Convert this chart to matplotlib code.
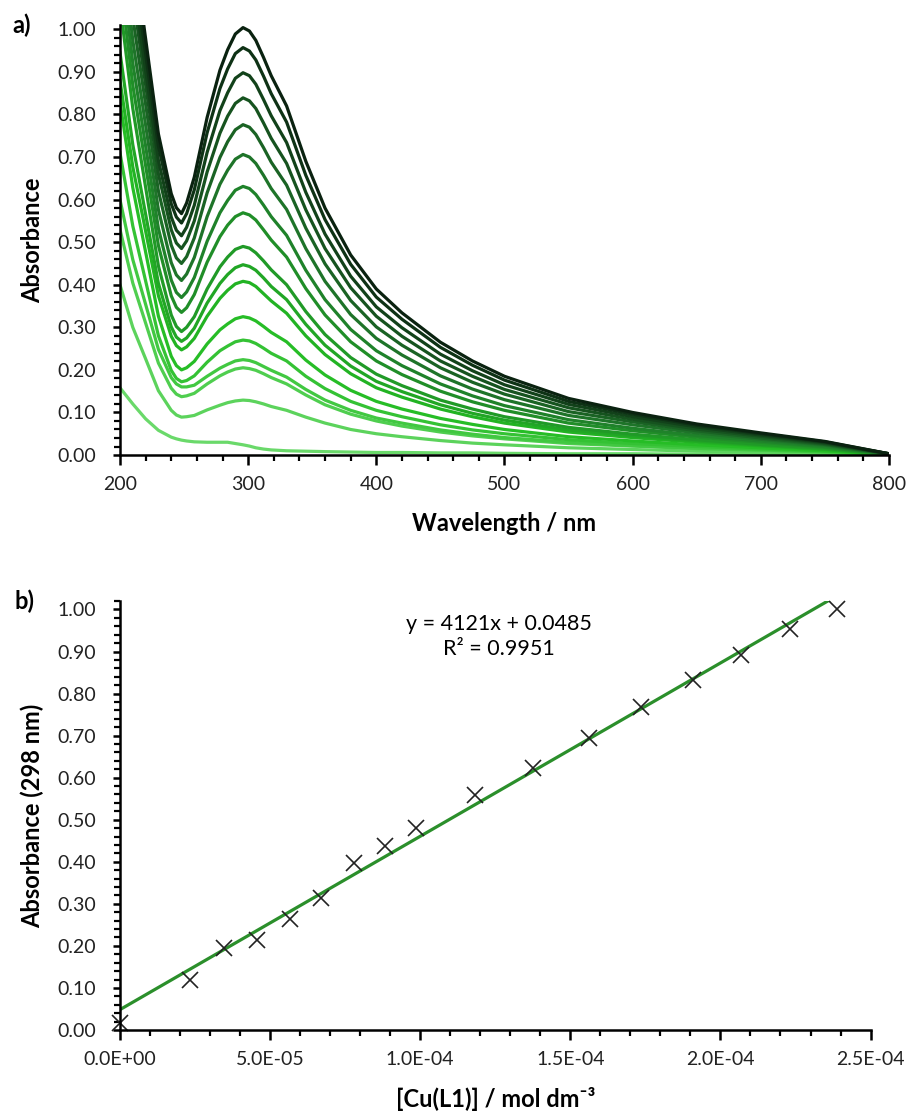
import matplotlib
matplotlib.use('Agg')
import matplotlib.pyplot as plt
from matplotlib.colors import LinearSegmentedColormap
from matplotlib.ticker import MultipleLocator, FuncFormatter
import numpy as np

plt.rcParams['font.family'] = ['Lato', 'DejaVu Sans']


# spectra (panel a)
wavelength = [200, 210, 220, 230, 240, 244, 248, 252, 258, 268, 278, 284, 290, 296, 301, 306, 312,
              318, 330, 345, 360, 380, 400, 420, 450, 475, 500, 550, 600, 650, 700, 750, 800]

abs_01 = [0.158, 0.120, 0.085, 0.058, 0.042, 0.038, 0.035, 0.033, 0.031, 0.030, 0.030, 0.030, 0.027,
          0.024, 0.021, 0.017, 0.014, 0.012, 0.010, 0.009, 0.008, 0.007, 0.006, 0.006, 0.005, 0.005,
          0.004, 0.003, 0.003, 0.002, 0.002, 0.001, 0.000]
abs_02 = [0.400, 0.300, 0.226, 0.151, 0.105, 0.094, 0.089, 0.090, 0.093, 0.106, 0.117, 0.123, 0.127,
          0.129, 0.128, 0.125, 0.120, 0.114, 0.105, 0.089, 0.075, 0.060, 0.050, 0.043, 0.034, 0.028,
          0.024, 0.017, 0.013, 0.009, 0.007, 0.004, 0.000]
abs_03 = [0.530, 0.404, 0.310, 0.216, 0.157, 0.143, 0.137, 0.139, 0.145, 0.167, 0.186, 0.195, 0.202,
          0.205, 0.203, 0.199, 0.191, 0.182, 0.167, 0.141, 0.118, 0.096, 0.080, 0.068, 0.054, 0.045,
          0.038, 0.027, 0.021, 0.015, 0.011, 0.007, 0.001]
abs_04 = [0.600, 0.459, 0.354, 0.248, 0.182, 0.167, 0.160, 0.160, 0.164, 0.185, 0.204, 0.213, 0.221,
          0.224, 0.222, 0.217, 0.208, 0.199, 0.183, 0.154, 0.129, 0.105, 0.087, 0.075, 0.059, 0.049,
          0.041, 0.030, 0.022, 0.016, 0.012, 0.007, 0.001]
abs_05 = [0.710, 0.538, 0.409, 0.280, 0.199, 0.180, 0.172, 0.175, 0.186, 0.218, 0.245, 0.256, 0.266,
          0.270, 0.268, 0.262, 0.251, 0.239, 0.221, 0.185, 0.156, 0.126, 0.105, 0.090, 0.071, 0.059,
          0.050, 0.036, 0.027, 0.020, 0.014, 0.009, 0.001]
abs_06 = [0.830, 0.628, 0.477, 0.326, 0.232, 0.210, 0.200, 0.205, 0.220, 0.261, 0.294, 0.308, 0.320,
          0.325, 0.322, 0.315, 0.302, 0.288, 0.266, 0.223, 0.188, 0.152, 0.126, 0.108, 0.086, 0.072,
          0.060, 0.043, 0.033, 0.024, 0.017, 0.010, 0.001]
abs_07 = [0.880, 0.677, 0.526, 0.374, 0.279, 0.257, 0.247, 0.254, 0.274, 0.326, 0.368, 0.387, 0.402,
          0.408, 0.405, 0.396, 0.379, 0.362, 0.333, 0.280, 0.236, 0.191, 0.158, 0.136, 0.108, 0.090,
          0.075, 0.054, 0.041, 0.030, 0.021, 0.013, 0.001]
abs_08 = [0.946, 0.729, 0.566, 0.403, 0.301, 0.277, 0.267, 0.275, 0.298, 0.357, 0.403, 0.424, 0.440,
          0.447, 0.443, 0.434, 0.416, 0.396, 0.365, 0.307, 0.258, 0.209, 0.173, 0.149, 0.118, 0.098,
          0.082, 0.059, 0.045, 0.033, 0.023, 0.014, 0.001]
abs_09 = [1.060, 0.814, 0.629, 0.444, 0.329, 0.302, 0.290, 0.300, 0.325, 0.390, 0.442, 0.465, 0.483,
          0.490, 0.486, 0.475, 0.456, 0.435, 0.400, 0.337, 0.283, 0.229, 0.190, 0.163, 0.129, 0.108,
          0.090, 0.065, 0.049, 0.036, 0.025, 0.016, 0.001]
abs_10 = [1.120, 0.869, 0.680, 0.492, 0.374, 0.347, 0.335, 0.346, 0.377, 0.453, 0.513, 0.540, 0.560,
          0.569, 0.564, 0.552, 0.529, 0.505, 0.465, 0.391, 0.329, 0.266, 0.221, 0.189, 0.150, 0.125,
          0.105, 0.075, 0.057, 0.042, 0.030, 0.018, 0.002]
abs_11 = [1.180, 0.921, 0.726, 0.532, 0.411, 0.382, 0.370, 0.383, 0.417, 0.502, 0.569, 0.598, 0.622,
          0.631, 0.626, 0.612, 0.587, 0.560, 0.516, 0.434, 0.365, 0.295, 0.245, 0.210, 0.167, 0.139,
          0.116, 0.083, 0.063, 0.046, 0.033, 0.020, 0.002]
abs_12 = [1.240, 0.974, 0.775, 0.576, 0.452, 0.423, 0.410, 0.425, 0.464, 0.560, 0.636, 0.669, 0.695,
          0.706, 0.700, 0.685, 0.657, 0.626, 0.577, 0.485, 0.408, 0.330, 0.274, 0.235, 0.186, 0.155,
          0.130, 0.093, 0.071, 0.052, 0.037, 0.023, 0.002]
abs_13 = [1.300, 1.028, 0.824, 0.620, 0.493, 0.463, 0.450, 0.466, 0.510, 0.616, 0.699, 0.736, 0.764,
          0.776, 0.770, 0.753, 0.722, 0.688, 0.634, 0.533, 0.449, 0.363, 0.301, 0.258, 0.205, 0.171,
          0.143, 0.102, 0.078, 0.057, 0.040, 0.025, 0.002]
abs_14 = [1.360, 1.080, 0.870, 0.660, 0.529, 0.498, 0.485, 0.503, 0.550, 0.665, 0.756, 0.796, 0.826,
          0.839, 0.832, 0.814, 0.780, 0.744, 0.685, 0.576, 0.485, 0.393, 0.326, 0.279, 0.221, 0.185,
          0.154, 0.111, 0.084, 0.061, 0.044, 0.027, 0.003]
abs_15 = [1.400, 1.117, 0.904, 0.692, 0.559, 0.528, 0.515, 0.535, 0.587, 0.711, 0.809, 0.851, 0.885,
          0.898, 0.891, 0.871, 0.835, 0.797, 0.734, 0.617, 0.519, 0.420, 0.348, 0.299, 0.237, 0.198,
          0.165, 0.119, 0.090, 0.066, 0.047, 0.029, 0.003]
abs_16 = [1.450, 1.160, 0.943, 0.726, 0.590, 0.559, 0.545, 0.567, 0.623, 0.757, 0.861, 0.907, 0.943,
          0.957, 0.949, 0.928, 0.890, 0.849, 0.782, 0.657, 0.553, 0.448, 0.371, 0.319, 0.253, 0.211,
          0.176, 0.126, 0.096, 0.070, 0.050, 0.031, 0.003]
abs_17 = [1.500, 1.201, 0.978, 0.754, 0.614, 0.581, 0.567, 0.592, 0.653, 0.793, 0.904, 0.952, 0.989,
          1.004, 0.996, 0.974, 0.934, 0.891, 0.820, 0.690, 0.580, 0.470, 0.390, 0.334, 0.265, 0.221,
          0.185, 0.133, 0.100, 0.073, 0.052, 0.032, 0.003]

spectra = [abs_01, abs_02, abs_03, abs_04, abs_05, abs_06, abs_07, abs_08, abs_09,
           abs_10, abs_11, abs_12, abs_13, abs_14, abs_15, abs_16, abs_17]

# titration points (panel b)
conc = [0.0, 2.33e-5, 3.47e-5, 4.57e-5, 5.67e-5, 6.70e-5, 7.80e-5, 8.83e-5, 9.87e-5,
        1.183e-4, 1.377e-4, 1.563e-4, 1.737e-4, 1.907e-4, 2.07e-4, 2.233e-4, 2.387e-4]
abs_298 = [0.017, 0.118, 0.194, 0.213, 0.263, 0.315, 0.398, 0.438, 0.481,
           0.559, 0.623, 0.694, 0.768, 0.832, 0.891, 0.953, 1.000]
slope = 4121
intercept = 0.0485


# initial the figure
fig = plt.figure(figsize=(9.11, 11.18), dpi=100)
ax1 = fig.add_axes([0.1317, 0.593, 0.8441, 0.3846])
ax2 = fig.add_axes([0.1317, 0.0787, 0.8239, 0.3837])

cmap = LinearSegmentedColormap.from_list('greens', ['#6ad96a', '#22bb22', '#1f7a2b', '#0a2210'])
colors = cmap(np.linspace(0, 1, len(spectra)))


# panel a
for spec, col in zip(spectra, colors):
    ax1.plot(wavelength, spec, color=col, lw=2.3, solid_joinstyle='round')

ax1.set_xlim(200, 800)
ax1.set_ylim(0, 1.01)
ax1.xaxis.set_major_locator(MultipleLocator(100))
ax1.xaxis.set_minor_locator(MultipleLocator(20))
ax1.set_xlabel('Wavelength / nm', fontsize=17, fontweight='bold', labelpad=14)
ax1.set_ylabel('Absorbance', fontsize=17, fontweight='bold', labelpad=10)
ax1.text(-0.14, 1.0, 'a)', transform=ax1.transAxes, fontsize=17, fontweight='bold',
         ha='left', va='center')


# panel b
xfit = np.array([0.0, max(conc)])
ax2.plot(xfit, slope * xfit + intercept, color='#2b8f2b', lw=2.3)
ax2.plot(conc, abs_298, linestyle='none', marker='x', color='#222222', ms=11, mew=1.2,
         clip_on=False)

ax2.set_xlim(0, 2.5e-4)
ax2.set_ylim(0, 1.02)
ax2.xaxis.set_major_locator(MultipleLocator(5e-5))
ax2.xaxis.set_minor_locator(MultipleLocator(1e-5))
ax2.xaxis.set_major_formatter(FuncFormatter(lambda v, p: f'{v:.1E}'))
ax2.set_xlabel('[Cu(L1)] / mol dm⁻³', fontsize=17, fontweight='bold', labelpad=14)
ax2.set_ylabel('Absorbance (298 nm)', fontsize=17, fontweight='bold', labelpad=10)
ax2.text(-0.14, 1.0, 'b)', transform=ax2.transAxes, fontsize=17, fontweight='bold',
         ha='left', va='center')
ax2.text(0.505, 0.97, f'y = {slope}x + {intercept}\nR² = 0.9951', transform=ax2.transAxes,
         fontsize=15.5, ha='center', va='top', linespacing=1.3)


# common axis settings
for ax in (ax1, ax2):
    ax.yaxis.set_major_locator(MultipleLocator(0.1))
    ax.yaxis.set_minor_locator(MultipleLocator(0.02))
    ax.yaxis.set_major_formatter(FuncFormatter(lambda v, p: f'{v:.2f}'))
    ax.spines['top'].set_visible(False)
    ax.spines['right'].set_visible(False)
    ax.spines['left'].set_linewidth(1.8)
    ax.spines['bottom'].set_linewidth(1.8)
    ax.tick_params(axis='both', which='major', direction='out', width=1.8, labelsize=14,
                   color='black', labelcolor='#222222')
    ax.tick_params(axis='y', which='major', length=5, pad=12)
    ax.tick_params(axis='y', which='minor', direction='out', length=4, width=1.6)
    ax.tick_params(axis='x', which='major', length=7, pad=8)
    ax.tick_params(axis='x', which='minor', direction='out', length=4, width=1.6)

fig.savefig('out.png', dpi=100)
